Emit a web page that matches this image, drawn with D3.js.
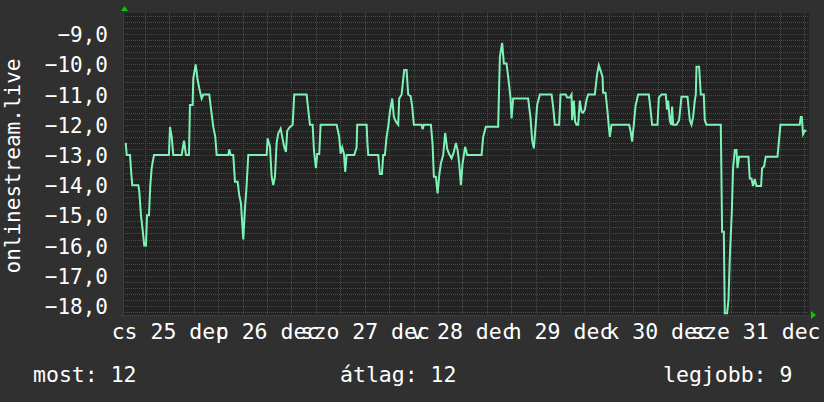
<!DOCTYPE html>
<html><head><meta charset="utf-8">
<script src="https://cdn.jsdelivr.net/npm/d3@7"></script>
<style>body{margin:0;background:#303030}svg{display:block}</style>
</head><body><svg id="c" width="824" height="402"></svg>
<script>
// hours since 25 Dec 2025 00:00 (UTC)
const hours = [1.25,1.50,2.31,2.56,2.87,4.35,4.59,5.01,5.43,5.82,6.24,6.49,6.98,7.30,7.64,8.21,11.89,12.14,12.56,12.95,15.01,15.58,16.07,16.81,17.05,17.71,17.86,18.45,18.94,19.34,19.93,20.32,21.79,22.21,22.78,23.27,23.61,26.46,26.71,27.05,27.69,28.11,28.77,29.16,29.58,30.15,30.57,30.98,31.38,35.90,36.14,36.71,37.13,37.52,37.94,38.35,38.75,39.34,39.73,40.15,40.64,40.96,41.62,42.29,42.68,45.72,46.12,46.54,47.20,47.52,48.01,48.33,48.82,49.16,53.10,53.73,54.08,54.47,54.89,55.21,55.55,57.42,58.01,58.16,60.47,60.66,60.86,63.32,63.73,64.23,64.55,64.96,65.38,65.77,66.19,66.76,67.17,67.67,68.23,68.48,69.07,69.71,70.29,70.69,71.28,71.67,72.09,73.98,74.23,74.55,76.27,76.68,77.00,77.49,77.91,78.30,78.72,79.29,79.78,80.27,80.76,81.35,81.92,82.41,82.83,83.22,83.64,84.05,84.69,85.18,88.72,89.12,89.78,92.80,93.22,93.78,94.20,94.86,95.36,95.85,96.09,96.49,100.17,100.76,101.15,101.57,101.99,102.38,103.05,105.92,106.31,106.73,107.79,108.13,109.43,109.75,110.42,110.83,110.98,111.40,111.72,112.06,112.46,112.87,113.29,113.69,114.10,114.52,114.91,116.56,117.13,117.54,117.96,118.45,118.60,119.19,119.68,120.00,120.25,120.66,124.99,125.33,125.72,126.14,126.56,127.20,129.83,130.25,130.64,131.97,132.29,132.95,134.00,134.32,134.57,134.99,135.31,135.55,135.80,136.63,137.27,137.86,139.34,139.90,140.32,140.71,141.13,141.38,141.55,142.19,142.60,143.34,143.59,144.01,147.52,147.84,148.26,148.50,149.07,149.41,149.73,150.22,150.54,150.96,151.38,151.62,152.01,154.32,154.64,155.06,155.45,155.87,156.29,157.42,157.67,158.16,158.57,161.45,161.77,162.19,166.93,167.17,167.42,167.74,168.16,168.57];
const values = [-12.6,-13,-13,-13.5,-14,-14,-14.2,-15,-15.5,-16,-16,-15,-15,-14,-13.43,-13,-13,-12.07,-12.4,-13,-13,-12.53,-13,-13,-11.35,-11.35,-10.47,-10,-10.52,-10.8,-11.13,-11,-11,-11.46,-12.07,-12.4,-13,-13,-12.82,-13,-13,-13.89,-13.89,-14.33,-14.6,-15.8,-14.77,-14,-13,-13,-12.45,-12.73,-13.72,-14,-13.72,-12.6,-12.29,-12.13,-12.4,-12.7,-12.9,-12.2,-12.07,-12,-11,-11,-11.5,-12,-12,-12.84,-13.44,-12.97,-12.97,-12,-12,-12.4,-12.96,-12.75,-12.96,-13.56,-13,-13,-12.75,-12,-12,-12.6,-13,-13,-13.63,-13.63,-13,-13,-12.4,-12.07,-11.57,-11.13,-11.74,-11.9,-12,-11.13,-11,-10.19,-10.19,-11,-11.05,-11.4,-12,-12,-12.15,-12,-12,-12.64,-13.72,-13.72,-14.27,-13.7,-13.28,-13,-12.27,-12.8,-12.97,-13.11,-12.9,-12.6,-12.84,-13.28,-14,-13.28,-12.73,-13,-13,-12.4,-12.07,-12.07,-9.75,-9.29,-9.97,-9.97,-10.52,-11.13,-11.79,-11.13,-11.13,-11.79,-12.51,-12.78,-12.07,-11.35,-11,-11,-11.4,-12,-12,-11,-11,-11.1,-11.1,-11,-11.85,-11.2,-11.9,-12,-12,-11.2,-11.57,-11.6,-11.5,-11.18,-11,-11,-10.32,-10.03,-10.2,-10.41,-10.94,-10.94,-11.57,-12.07,-12.4,-12,-12,-12.2,-12.56,-12,-11.38,-11,-11,-11.5,-12,-12,-11.1,-11,-11,-11.5,-11.2,-11.85,-12,-11.4,-12,-12,-11.85,-11.07,-11.07,-11.85,-12,-11.75,-11.2,-11,-10.08,-10.08,-11,-11,-11.85,-12,-12,-15.54,-15.54,-18.24,-18.24,-17.8,-16.42,-14.93,-13.44,-12.84,-12.84,-13.44,-13.06,-13.06,-13.78,-13.78,-14.03,-13.8,-14.03,-14.03,-13.44,-13.38,-13.06,-13.06,-12.6,-12,-12,-11.74,-11.74,-12.31,-12.2,-12.2];
const yTicks = [-18,-17,-16,-15,-14,-13,-12,-11,-10,-9];
const dayNames = ["v","h","k","sze","cs","p","szo"];
const monthName = "dec";
const yTitle = "onlinestream.live";
const legendLabels = ["most","átlag","legjobb"];
const legendValues = [12,12,9];

const W = 824, H = 402;
const L = 123, R = 809, T = 13, B = 315;
const base = Date.UTC(2025, 11, 25);
const toDate = h => new Date(base + h * 3600e3);

const x = d3.scaleUtc().domain([toDate(0.59), toDate(169.2)]).range([L, R]);
const y = d3.scaleLinear().domain([-18.3, -8.3]).range([B, T]);

const svg = d3.select("#c");
svg.append("rect").attr("width", W).attr("height", H).attr("fill", "#303030");
svg.append("rect").attr("x", L).attr("y", T).attr("width", R - L).attr("height", B - T).attr("fill", "#222222");

const font = "'DejaVu Sans Mono', monospace";
const hu = d3.formatLocale({decimal: ",", thousands: " ", grouping: [3], currency: ["", " Ft"]});
const fmt = hu.format(".1f");

// grids
const g = svg.append("g");
const minorY = d3.range(-91, -41).map(i => i / 5).filter(v => Math.abs(v - Math.round(v)) > 1e-6);
g.selectAll(".hmin").data(minorY).join("line")
  .attr("x1", L).attr("x2", R).attr("y1", d => Math.round(y(d)) + 0.5).attr("y2", d => Math.round(y(d)) + 0.5)
  .attr("stroke", "#4c4c4c").attr("stroke-dasharray", "1,1");
const minorX = d3.utcHour.every(6).range(x.domain()[0], x.domain()[1]).filter(d => d.getUTCHours() !== 0);
g.selectAll(".vmin").data(minorX).join("line")
  .attr("y1", T).attr("y2", B).attr("x1", d => Math.round(x(d)) + 0.5).attr("x2", d => Math.round(x(d)) + 0.5)
  .attr("stroke", "#4c4c4c").attr("stroke-dasharray", "1,1");
g.selectAll(".hmaj").data(yTicks).join("line")
  .attr("x1", L).attr("x2", R).attr("y1", d => Math.round(y(d)) + 0.5).attr("y2", d => Math.round(y(d)) + 0.5)
  .attr("stroke", "#7a3030").attr("stroke-dasharray", "1,1");
const majorX = d3.utcDay.range(x.domain()[0], x.domain()[1]);
g.selectAll(".vmaj").data(majorX).join("line")
  .attr("y1", T).attr("y2", B).attr("x1", d => Math.round(x(d)) + 0.5).attr("x2", d => Math.round(x(d)) + 0.5)
  .attr("stroke", "#7a3030").attr("stroke-dasharray", "1,1");

// axis lines
svg.append("line").attr("x1", L - 3).attr("x2", R + 2).attr("y1", B + 0.5).attr("y2", B + 0.5).attr("stroke", "#3c3c3c");
svg.append("line").attr("x1", L + 0.5).attr("x2", L + 0.5).attr("y1", T - 2).attr("y2", B + 3).attr("stroke", "#3c3c3c");

// arrows
svg.append("path").attr("d", `M${L-2},${T-2}L${L+5},${T-2}L${L+1.5},${T-7}Z`).attr("fill", "#00cc00");
svg.append("path").attr("d", `M${R+2},${B-4}L${R+2},${B+4}L${R+7},${B}Z`).attr("fill", "#00cc00");

// y axis labels
const yAxis = d3.axisLeft(y).tickValues(yTicks).tickFormat(fmt).tickSize(0).tickPadding(0);
const ya = svg.append("g").attr("transform", `translate(108,0)`).call(yAxis);
ya.select(".domain").remove();
ya.selectAll("text").attr("font-family", font).attr("font-size", 21).attr("fill", "#ffffff").attr("dy", "0.36em");

// x axis labels at noon (only days inside the plotted range)
const [d0, d1] = x.domain();
const noons = d3.utcDay.range(toDate(0), toDate(169)).map(d => new Date(+d + 12 * 3600e3)).filter(d => d >= d0 && d <= d1);
const xAxis = d3.axisBottom(x).tickValues(noons)
  .tickFormat(d => `${dayNames[d.getUTCDay()]} ${d.getUTCDate()} ${monthName}`).tickSize(0).tickPadding(0);
const xa = svg.append("g").attr("transform", `translate(0,${B})`).call(xAxis);
xa.select(".domain").remove();
xa.selectAll("text").attr("font-family", font).attr("font-size", 21.5).attr("fill", "#ffffff").attr("dy", "0").attr("y", 24);

// y title
svg.append("text").attr("transform", `translate(20,${(T + B) / 2 + 2}) rotate(-90)`)
  .attr("text-anchor", "middle").attr("font-family", font).attr("font-size", 21).attr("fill", "#ffffff").text(yTitle);

// data line
const pts = hours.map((h, i) => [toDate(h), values[i]]);
svg.append("path").datum(pts)
  .attr("d", d3.line().x(d => x(d[0])).y(d => y(d[1])))
  .attr("fill", "none").attr("stroke", "#7ef2b6").attr("stroke-width", 2).attr("stroke-linejoin", "miter");

// legend
const legendX = [33, 340, 663];
svg.selectAll(".leg").data(legendLabels).join("text")
  .attr("x", (d, i) => legendX[i]).attr("y", 382)
  .attr("font-family", font).attr("font-size", 21.5).attr("fill", "#ffffff")
  .text((d, i) => `${d}: ${legendValues[i]}`);
</script></body></html>
